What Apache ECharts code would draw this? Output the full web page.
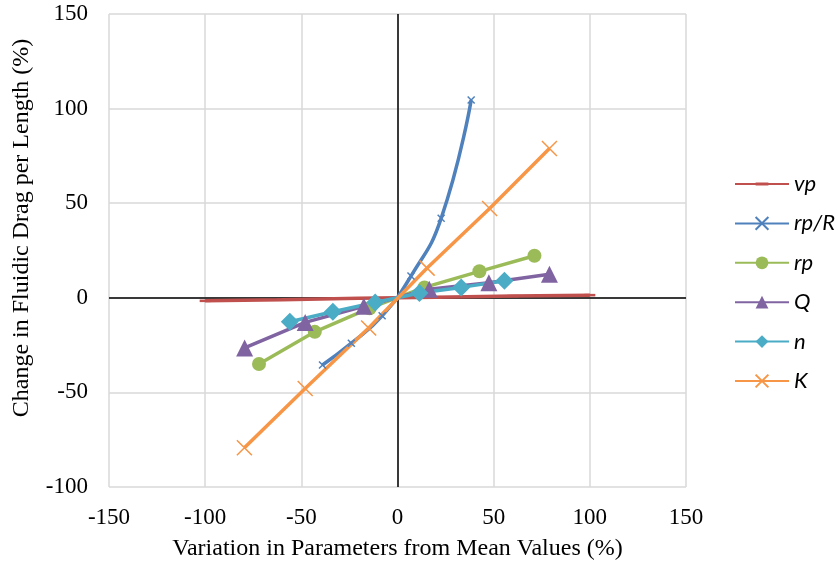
<!DOCTYPE html>
<html>
<head>
<meta charset="utf-8">
<script src="https://cdn.jsdelivr.net/npm/echarts@6/dist/echarts.min.js"></script>
<style>
  html, body { margin: 0; padding: 0; background: #fff; }
  #chart { width: 838px; height: 579px; }
</style>
</head>
<body>
<div id="chart"></div>
<script>
// Sensitivity of fluidic drag per length to each model parameter
const seriesNames = ['vp', 'rp/R', 'rp', 'Q', 'n', 'K'];

const vpX   = [-100, -60, -20, 20, 60, 100];
const vpY   = [-1.6, -1.0, -0.3, 0.3, 0.9, 1.4];

const rpRX  = [-39, -24, -8, 7, 22.7, 38.3];
const rpRY  = [-35.5, -24, -9.5, 11.5, 42, 104.5];

const rpX   = [-72, -43, -14.5, 14, 42.6, 71.2];
const rpY   = [-35, -18, -5.5, 5.5, 14, 22.2];

const qX    = [-79.5, -48, -17.5, 16.5, 47.5, 79];
const qY    = [-26.5, -13, -4.5, 4.5, 8, 12.5];

const nX    = [-56, -33.6, -11.6, 11.4, 33.1, 55.6];
const nY    = [-12.7, -7.4, -2.5, 2.5, 5.5, 9];

const kX    = [-79.6, -48, -15, 15.4, 47.9, 79];
const kY    = [-79.3, -47.9, -16, 15.7, 47.2, 78.9];

const xTicks = [-150, -100, -50, 0, 50, 100, 150];
const yTicks = [-100, -50, 0, 50, 100, 150];

const xTitle = 'Variation in Parameters from Mean Values (%)';
const yTitle = 'Change in Fluidic Drag per Length (%)';

const pair = (xs, ys) => xs.map((x, i) => [x, ys[i]]);

// cross marker (stroked) and a thin horizontal dash kept inside a square box
const crossPath = 'path://M0,0L10,10M10,0L0,10';
const dashPath = 'path://M0,0L0,0M12,12L12,12M0,4.6H12V7.4H0Z';

const serif = 'Liberation Serif';

const chart = echarts.init(document.getElementById('chart'), null, { renderer: 'canvas' });

function lineSeries(name, data, color, symbol, size, extra) {
  return Object.assign({
    name: name,
    type: 'line',
    data: data,
    symbol: symbol,
    symbolSize: size,
    showSymbol: true,
    lineStyle: { color: color, width: 3.5 },
    itemStyle: { color: color },
    emphasis: { disabled: true },
    z: 3
  }, extra || {});
}

chart.setOption({
  animation: false,
  backgroundColor: '#ffffff',
  grid: { left: 109, right: 152, top: 14, bottom: 92, show: false },
  legend: {
    orient: 'vertical',
    left: 729,
    top: 168,
    itemWidth: 54,
    itemHeight: 16,
    itemGap: 17.4,
    data: seriesNames,
    textStyle: { fontFamily: 'Lato', fontStyle: 'italic', fontSize: 22, color: '#000' }
  },
  graphic: [{
    type: 'text',
    x: 22,
    y: 228,
    rotation: Math.PI / 2,
    style: {
      text: yTitle,
      fontFamily: serif,
      fontSize: 24,
      fill: '#000',
      align: 'center',
      verticalAlign: 'middle'
    }
  }],
  xAxis: {
    type: 'value',
    min: xTicks[0],
    max: xTicks[xTicks.length - 1],
    interval: 50,
    axisLine: { show: false, onZero: false },
    axisTick: { show: false },
    axisLabel: { margin: 19, fontFamily: serif, fontSize: 23, color: '#000' },
    splitLine: { show: true, lineStyle: { color: '#d9d9d9', width: 1.5 } },
    name: xTitle,
    nameLocation: 'middle',
    nameGap: 50,
    nameTextStyle: { fontFamily: serif, fontSize: 24, color: '#000' }
  },
  yAxis: {
    type: 'value',
    min: yTicks[0],
    max: yTicks[yTicks.length - 1],
    interval: 50,
    axisLine: { show: false, onZero: false },
    axisTick: { show: false },
    axisLabel: { margin: 21, fontFamily: serif, fontSize: 23, color: '#000' },
    splitLine: { show: true, lineStyle: { color: '#d9d9d9', width: 1.5 } }
  },
  series: [
    lineSeries('vp', pair(vpX, vpY), '#C0504D', dashPath, 11, {
      markLine: {
        silent: true,
        symbol: 'none',
        label: { show: false },
        lineStyle: { color: '#000', width: 1.5, type: 'solid' },
        data: [{ xAxis: 0 }, { yAxis: 0 }],
        z: 1
      },
      z: 2
    }),
    lineSeries('rp/R', pair(rpRX, rpRY), '#4F81BD', crossPath, 7, {
      smooth: true,
      itemStyle: { color: 'none', borderColor: '#4F81BD', borderWidth: 1.5 }
    }),
    lineSeries('rp', pair(rpX, rpY), '#9BBB59', 'circle', 14),
    lineSeries('Q', pair(qX, qY), '#8064A2', 'triangle', 17),
    lineSeries('n', pair(nX, nY), '#4BACC6', 'diamond', 18),
    lineSeries('K', pair(kX, kY), '#F79646', crossPath, 15, {
      itemStyle: { color: 'none', borderColor: '#F79646', borderWidth: 1.5 }
    })
  ]
});
</script>
</body>
</html>
